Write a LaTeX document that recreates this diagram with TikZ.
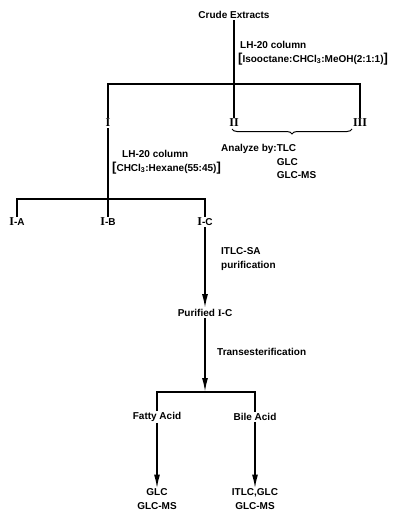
\documentclass[tikz,border=0pt]{standalone}
\usepackage{fontspec}
\setmainfont{Liberation Sans}
\newfontfamily\romfont{Liberation Serif}
\usetikzlibrary{arrows.meta, positioning, decorations.pathreplacing}
\newcommand{\lbrk}{{\fontsize{13}{13}\selectfont[}}
\newcommand{\rbrk}{{\fontsize{13}{13}\selectfont]}}

\begin{document}
\begin{tikzpicture}[x=1pt, y=-1pt,
lbl/.style={font=\bfseries\fontsize{10}{13.5}\selectfont, inner sep=1pt},
rom/.style={lbl, font=\romfont\bfseries\fontsize{12}{13}\selectfont},
note/.style={lbl, align=left, anchor=west},
branch/.style={line width=1.6pt},
arrow/.style={line width=1.6pt, -{Latex[length=14pt, width=6pt]}}]
\useasboundingbox (0,0) rectangle (403,511);
% first separation
\node[lbl] (crude) at (234,15) {Crude Extracts};
\node[rom] (frI) at (108,123) {I};
\node[rom] (frII) at (234,123) {II};
\node[rom] (frIII) at (360,123) {III};
\coordinate (split1) at (234,84);
\node[note] (col1) at (237,53)
    {\hspace{2pt}LH-20 column\\\lbrk Isooctane:CHCl\textsubscript{3}:MeOH(2:1:1)\rbrk};
\draw[branch] (crude) -- (frII);
\draw[branch] (frI) -- (frI |- split1) -- (frIII |- split1) -- (frIII);
\draw[line width=1pt, decorate, decoration={brace, mirror, amplitude=5pt}]
    (232,129) -- (352,129);
\node[lbl, anchor=north west] (analyze) at (220,141)
    {\begin{tabular}{@{}r@{}l@{}}Analyze by:&TLC\\&GLC\\&GLC-MS\end{tabular}};
% second separation
\node[rom] (frIA) at (17,222) {I\textrm{\bfseries\fontsize{10}{12}\selectfont -A}};
\node[rom] (frIB) at (108,222) {I\textrm{\bfseries\fontsize{10}{12}\selectfont -B}};
\node[rom] (frIC) at (205,222) {I\textrm{\bfseries\fontsize{10}{12}\selectfont -C}};
\coordinate (split2) at (108,199);
\node[note] (col2) at (111,162)
    {\hspace{10pt}LH-20 column\\\lbrk CHCl\textsubscript{3}:Hexane(55:45)\rbrk};
\draw[branch] (frI) -- (frIB);
\draw[branch] (frIA) -- (frIA |- split2) -- (frIC |- split2) -- (frIC);
% purification
\node[lbl] (pure) at (205,313) {Purified {\romfont I}-C};
\node[note] (itlc) at (220,259) {ITLC-SA\\purification};
\draw[arrow] (frIC) -- (pure);
\coordinate (split3) at (205,392);
\node[note] (trans) at (216,352) {Transesterification};
\draw[arrow] (pure) -- (split3);
% acids
\node[lbl] (fatty) at (157,417) {Fatty Acid};
\node[lbl] (bile) at (255,417) {Bile Acid};
\draw[branch] (fatty) -- (fatty |- split3) -- (bile |- split3) -- (bile);
\node[lbl, align=center, inner sep=0pt] (fattyan) at (157,499) {GLC\\GLC-MS};
\node[lbl, align=center, inner sep=0pt] (bilean) at (255,499) {ITLC,GLC\\GLC-MS};
\draw[arrow] (fatty) -- (fattyan);
\draw[arrow] (bile) -- (bilean);
\end{tikzpicture}
\end{document}
